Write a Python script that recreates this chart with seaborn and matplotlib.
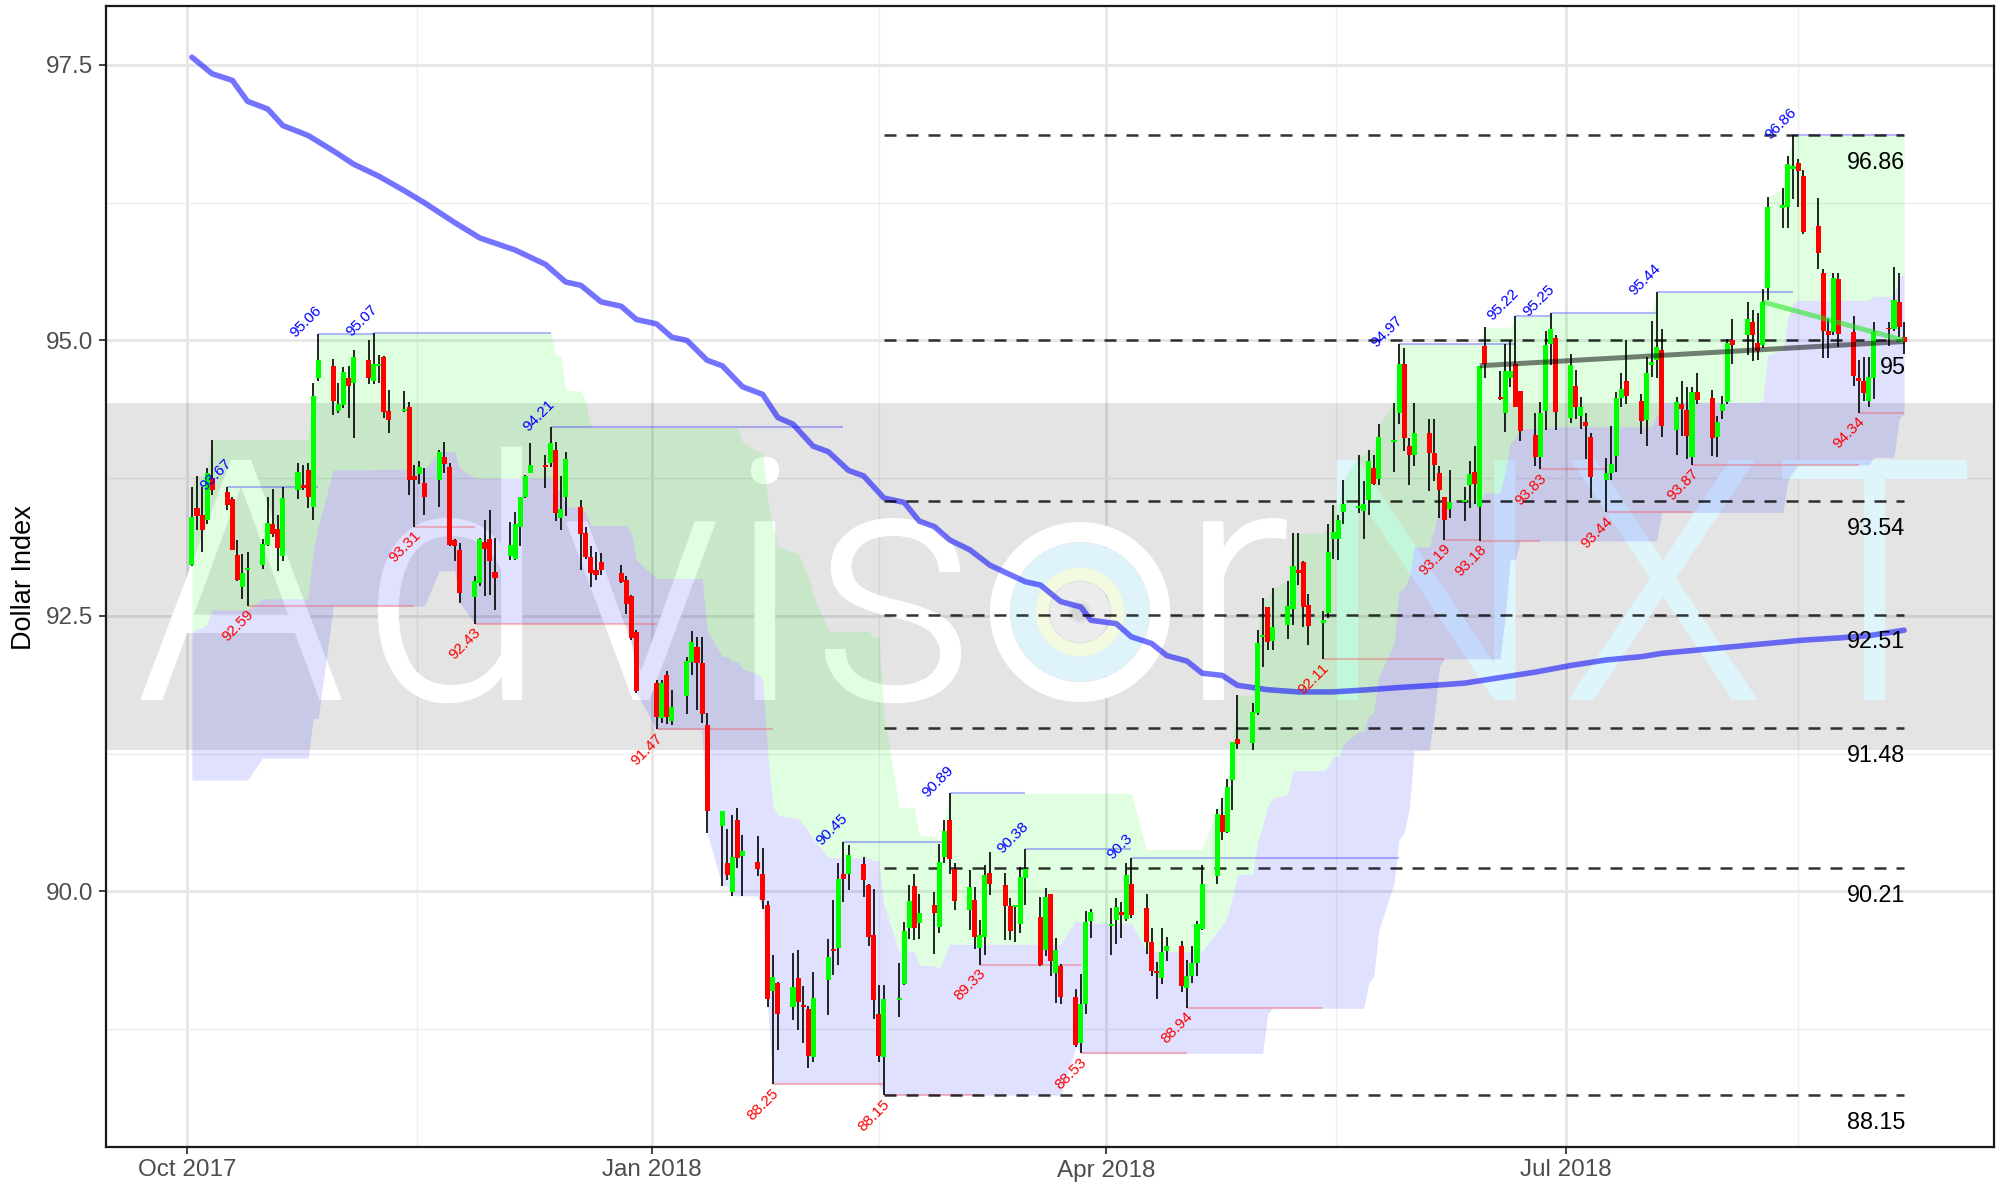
import numpy as np
import pandas as pd
import matplotlib
matplotlib.use("Agg")
import matplotlib.pyplot as plt
import matplotlib.dates as mdates
import matplotlib.transforms as mtransforms
from matplotlib.ticker import FixedLocator, FormatStrFormatter
from matplotlib.patches import Ellipse, PathPatch
from matplotlib.textpath import TextPath
from matplotlib.font_manager import FontProperties, fontManager
import seaborn as sns

# ---------------- data ----------------
open_px = [
    92.96, 93.48, 93.42, 93.37, 93.75, 93.62, 93.56, 93.05, 92.76, 92.92, 92.96, 93.14, 93.33, 93.29, 93.04, 93.64, 93.69, 93.82, 93.49, 94.66, 94.77, 94.36,
    94.41, 94.66, 94.61, 94.82, 94.63, 94.77, 94.85, 94.36, 94.36, 94.40, 93.77, 93.79, 93.71, 93.73, 93.94, 93.85, 93.19, 93.10, 92.67, 92.80, 93.17, 93.20,
    92.90, 93.04, 93.02, 93.31, 93.58, 93.80, 93.86, 93.89, 94.01, 93.39, 93.58, 93.49, 93.25, 93.03, 92.92, 92.99, 92.89, 92.83, 92.68, 92.35,
    91.89, 91.57, 91.96, 91.55, 91.77, 92.08, 92.22, 92.07, 91.51, 90.59, 90.26, 89.99, 90.65, 90.32, 90.27, 90.16, 89.88, 89.10, 89.17, 88.95, 89.21, 88.96,
    88.93, 88.50, 89.20, 89.48, 89.49, 90.16, 90.16, 90.25, 90.06, 89.60, 88.89, 88.50, 89.01, 89.16, 89.67, 90.05, 89.71, 89.88, 89.68, 90.31,
    90.65, 90.20, 89.83, 89.92, 89.49, 89.59, 90.17, 90.06, 89.87, 89.86, 89.70, 90.12, 89.77, 89.47, 89.98, 89.26, 89.32, 89.04, 88.62, 88.98, 89.73,
    89.69, 89.74, 89.81, 89.75, 90.07, 89.85, 89.54, 89.27, 89.21, 89.46, 89.50, 89.12, 89.23, 89.35, 89.66, 90.14, 90.69, 90.54, 91.01, 91.38, 91.35,
    91.62, 92.31, 92.58, 92.27, 92.42, 92.56, 92.92, 92.99, 92.60, 92.44, 92.53, 93.20, 93.20, 93.44, 93.48, 93.45, 93.55, 93.84, 93.74, 94.08, 94.34, 94.79, 94.04,
    93.96, 94.16, 93.98, 93.80, 93.58, 93.47, 93.53, 93.69, 93.81, 93.49, 94.95, 94.48, 94.34, 94.66, 94.79, 94.54, 94.14, 93.94, 94.36, 94.97, 95.02,
    94.30, 94.59, 94.31, 94.26, 94.12, 93.73, 93.80, 93.95, 94.48, 94.63, 94.45, 94.28, 94.78, 94.82, 94.91, 94.19, 94.42, 94.37, 93.94, 94.53, 94.48, 94.12,
    94.36, 94.44, 95.00, 95.05, 95.17, 94.98, 94.96, 95.48, 96.20, 96.21, 96.56, 96.61, 96.49, 96.04, 95.61, 95.09, 95.08, 95.56, 95.08, 94.66, 94.63, 94.45, 94.66,
    95.11, 95.10, 95.35, 95.03,
]
high_px = [
    93.67, 93.77, 93.67, 93.84, 94.10, 93.67, 93.58, 93.19, 93.06, 93.08, 93.20, 93.58, 93.65, 93.42, 93.67, 93.89, 93.87, 93.89, 94.61, 95.06, 94.83, 94.61,
    94.76, 94.77, 94.91, 95.00, 95.07, 94.87, 94.86, 94.55, 94.54, 94.44, 93.87, 93.91, 93.84, 94.01, 94.08, 93.89, 93.20, 93.16, 92.86, 93.21, 93.37, 93.46,
    93.21, 93.35, 93.44, 93.58, 93.78, 94.07, 93.96, 94.21, 94.08, 93.77, 93.99, 93.55, 93.31, 93.13, 93.08, 93.07, 92.96, 92.86, 92.69, 92.37,
    91.92, 91.92, 92.00, 91.83, 92.13, 92.36, 92.31, 92.31, 91.62, 90.73, 90.57, 90.69, 90.76, 90.51, 90.50, 90.39, 89.91, 89.42, 89.18, 89.44, 89.47, 89.14,
    88.96, 89.27, 89.57, 89.92, 90.26, 90.45, 90.42, 90.31, 90.07, 90.02, 89.15, 89.15, 89.35, 89.72, 90.06, 90.16, 89.98, 89.99, 90.43, 90.65,
    90.89, 90.26, 90.19, 90.04, 89.74, 90.24, 90.36, 90.17, 89.94, 89.88, 90.22, 90.38, 89.95, 90.03, 89.98, 89.58, 89.34, 89.11, 89.25, 89.82, 89.84,
    89.85, 89.94, 89.90, 90.26, 90.30, 89.98, 89.67, 89.36, 89.67, 89.59, 89.55, 89.38, 89.50, 89.73, 90.24, 90.75, 90.85, 91.02, 91.36, 91.78, 91.71,
    92.37, 92.66, 92.58, 92.75, 92.82, 93.25, 93.25, 93.00, 92.70, 92.54, 93.33, 93.51, 93.42, 93.73, 93.96, 93.72, 94.01, 93.96, 94.24, 94.43, 94.97, 94.93, 94.11,
    94.43, 94.29, 94.29, 93.86, 93.58, 93.82, 93.67, 93.91, 94.04, 94.77, 95.12, 94.72, 94.97, 95.00, 95.22, 94.54, 94.34, 94.44, 95.09, 95.25, 95.05,
    94.88, 94.73, 94.49, 94.34, 94.16, 93.93, 94.22, 94.53, 94.70, 95.00, 94.51, 94.85, 95.18, 95.44, 95.10, 94.49, 94.63, 94.58, 94.58, 94.70, 94.55, 94.31,
    94.50, 95.01, 95.19, 95.35, 95.28, 95.25, 95.47, 96.30, 96.38, 96.67, 96.86, 96.65, 96.55, 96.29, 95.65, 95.19, 95.61, 95.61, 95.22, 94.82, 94.85, 94.85, 95.17,
    95.17, 95.67, 95.61, 95.17,
]
low_px = [
    92.95, 93.28, 93.08, 93.33, 93.60, 93.46, 93.10, 92.82, 92.65, 92.59, 92.93, 93.13, 93.22, 92.91, 93.00, 93.56, 93.64, 93.48, 93.37, 94.63, 94.32, 94.34,
    94.39, 94.30, 94.11, 94.60, 94.60, 94.61, 94.30, 94.16, 94.35, 93.60, 93.31, 93.70, 93.42, 93.49, 93.80, 93.13, 93.00, 92.62, 92.43, 92.77, 92.68, 92.69,
    92.55, 93.01, 93.01, 93.13, 93.57, 93.80, 93.66, 93.85, 93.36, 93.28, 93.41, 92.92, 93.02, 92.76, 92.83, 92.87, 92.80, 92.52, 92.28, 91.80,
    91.47, 91.53, 91.52, 91.51, 91.61, 91.96, 91.65, 91.53, 90.53, 90.05, 90.10, 89.96, 90.21, 89.96, 90.14, 89.84, 88.95, 88.25, 88.56, 88.83, 88.74, 88.62,
    88.40, 88.45, 88.88, 89.24, 89.33, 89.90, 90.01, 89.95, 89.50, 88.84, 88.45, 88.15, 88.86, 89.15, 89.57, 89.56, 89.57, 89.43, 89.62, 90.26,
    90.16, 89.83, 89.65, 89.48, 89.33, 89.42, 89.97, 89.56, 89.56, 89.54, 89.62, 89.88, 89.32, 89.41, 89.23, 88.99, 88.98, 88.59, 88.53, 88.89, 89.58,
    89.42, 89.52, 89.58, 89.73, 89.76, 89.43, 89.23, 89.02, 89.16, 89.37, 89.09, 88.94, 89.17, 89.23, 89.65, 90.07, 90.47, 90.53, 90.74, 91.29, 91.28,
    91.60, 92.04, 92.19, 92.19, 92.29, 92.42, 92.78, 92.40, 92.24, 92.11, 92.48, 93.02, 93.01, 93.33, 93.43, 93.20, 93.42, 93.69, 93.69, 93.81, 94.24, 94.00, 93.69,
    93.86, 93.63, 93.72, 93.39, 93.19, 93.39, 93.36, 93.48, 93.52, 93.18, 94.66, 94.46, 94.17, 94.58, 94.40, 94.09, 93.86, 93.83, 94.19, 94.78, 94.19,
    94.25, 94.29, 94.20, 93.92, 93.57, 93.44, 93.73, 93.81, 94.40, 94.42, 94.15, 94.04, 94.67, 94.66, 94.12, 93.96, 94.13, 93.92, 93.87, 94.42, 93.95, 93.94,
    94.29, 94.42, 94.79, 94.87, 94.81, 94.82, 94.93, 95.37, 96.02, 96.02, 96.28, 96.21, 95.97, 95.65, 94.84, 94.84, 95.05, 94.94, 94.59, 94.34, 94.45, 94.40, 94.47,
    94.95, 95.09, 95.03, 94.88,
]
close_px = [
    93.40, 93.41, 93.28, 93.80, 93.64, 93.51, 93.10, 92.83, 92.89, 92.93, 93.15, 93.34, 93.24, 93.12, 93.57, 93.81, 93.66, 93.58, 94.50, 94.82, 94.45, 94.42,
    94.71, 94.59, 94.85, 94.66, 94.79, 94.78, 94.35, 94.28, 94.38, 93.73, 93.73, 93.85, 93.58, 93.99, 93.88, 93.14, 93.13, 92.71, 92.82, 93.20, 93.11, 93.00,
    92.84, 93.14, 93.33, 93.58, 93.77, 93.87, 93.85, 94.07, 93.43, 93.47, 93.92, 93.24, 93.03, 92.89, 92.87, 92.92, 92.81, 92.61, 92.30, 91.82,
    91.58, 91.89, 91.58, 91.67, 92.09, 92.26, 92.07, 91.61, 90.73, 90.73, 90.15, 90.31, 90.30, 90.37, 90.20, 89.92, 89.02, 89.22, 88.89, 89.13, 89.00, 88.95,
    88.51, 89.03, 89.40, 89.46, 90.11, 90.11, 90.33, 90.10, 89.59, 89.01, 88.51, 89.02, 89.03, 89.64, 89.91, 89.67, 89.80, 89.80, 90.27, 90.55,
    90.29, 89.91, 90.04, 89.59, 89.60, 90.15, 90.07, 89.87, 89.64, 89.87, 90.13, 90.20, 89.33, 89.95, 89.37, 89.47, 89.04, 88.61, 88.98, 89.72, 89.81,
    89.70, 89.86, 89.79, 90.15, 89.79, 89.54, 89.28, 89.26, 89.45, 89.50, 89.14, 89.23, 89.35, 89.70, 90.07, 90.70, 90.54, 90.95, 91.36, 91.34, 91.63,
    92.25, 92.32, 92.26, 92.40, 92.59, 92.95, 92.89, 92.58, 92.41, 92.46, 93.08, 93.26, 93.37, 93.52, 93.50, 93.52, 93.91, 93.70, 94.12, 94.10, 94.79, 94.11, 93.96,
    94.16, 93.98, 93.87, 93.64, 93.37, 93.53, 93.55, 93.79, 93.70, 94.77, 94.79, 94.47, 94.72, 94.72, 94.40, 94.18, 93.94, 94.34, 94.96, 95.10, 94.35,
    94.78, 94.40, 94.40, 94.22, 93.76, 93.80, 93.88, 94.48, 94.56, 94.50, 94.27, 94.70, 94.80, 94.94, 94.22, 94.44, 94.38, 94.13, 94.53, 94.46, 94.11, 94.26,
    94.42, 94.98, 94.96, 95.19, 95.05, 94.90, 95.35, 96.21, 96.23, 96.60, 96.58, 96.54, 95.98, 95.79, 95.09, 95.05, 95.57, 95.06, 94.68, 94.63, 94.52, 94.67, 95.08,
    95.10, 95.37, 95.12, 94.99,
]
first_day = "2017-10-02"
last_day = "2018-09-06"
market_holidays = ["2017-12-25", "2018-01-01", "2018-03-30"]

# channel floor visible during the first weeks (set by lows before the chart starts)
early_channel_floor = [91.01, 91.01, 91.01, 91.01, 91.01, 91.01, 91.01, 91.01, 91.01, 91.01,
                       91.21, 91.21, 91.21, 91.21, 91.21, 91.21, 91.21, 91.21, 91.57, 91.57]
channel_window = 26

swing_high_dates = ["2017-10-09", "2017-10-27", "2017-11-07", "2017-12-12", "2018-02-08", "2018-03-01",
                    "2018-03-16", "2018-04-06", "2018-05-29", "2018-06-21", "2018-06-28", "2018-07-19", "2018-08-15"]
swing_high_values = [93.67, 95.06, 95.07, 94.21, 90.45, 90.89, 90.38, 90.3, 94.97, 95.22, 95.25, 95.44, 96.86]
swing_low_dates = ["2017-10-13", "2017-11-15", "2017-11-27", "2018-01-02", "2018-01-25", "2018-02-16", "2018-03-07",
                   "2018-03-27", "2018-04-17", "2018-05-14", "2018-06-07", "2018-06-14", "2018-06-26", "2018-07-09",
                   "2018-07-26", "2018-08-28"]
swing_low_values = [92.59, 93.31, 92.43, 91.47, 88.25, 88.15, 89.33, 88.53, 88.94, 92.11, 93.19, 93.18, 93.83, 93.44, 93.87, 94.34]

fib_levels = [96.86, 95, 93.54, 92.51, 91.48, 90.21, 88.15]
fib_start = "2018-02-16"

zone_low, zone_high = 91.28, 94.43

ma_dates = ["2017-10-02", "2017-10-06", "2017-10-10", "2017-10-13", "2017-10-17", "2017-10-20", "2017-10-25", "2017-10-30",
            "2017-11-03", "2017-11-08", "2017-11-13", "2017-11-17", "2017-11-23", "2017-11-28", "2017-12-05", "2017-12-11",
            "2017-12-15", "2017-12-18", "2017-12-22", "2017-12-26", "2017-12-29", "2018-01-02", "2018-01-05", "2018-01-08",
            "2018-01-12", "2018-01-15", "2018-01-19", "2018-01-23", "2018-01-26", "2018-01-29", "2018-02-02", "2018-02-05",
            "2018-02-09", "2018-02-12", "2018-02-16", "2018-02-20", "2018-02-23", "2018-02-26", "2018-03-01", "2018-03-05",
            "2018-03-09", "2018-03-16", "2018-03-19", "2018-03-23", "2018-03-27", "2018-03-29", "2018-04-03", "2018-04-06",
            "2018-04-10", "2018-04-13", "2018-04-17", "2018-04-20", "2018-04-24", "2018-04-27", "2018-05-03", "2018-05-09",
            "2018-05-16", "2018-05-23", "2018-05-29", "2018-06-05", "2018-06-11", "2018-06-18", "2018-06-25", "2018-07-02",
            "2018-07-09", "2018-07-16", "2018-07-20", "2018-07-27", "2018-08-03", "2018-08-10", "2018-08-17", "2018-08-24",
            "2018-08-30", "2018-09-06"]
ma_values = [97.57, 97.42, 97.36, 97.17, 97.10, 96.95, 96.86, 96.72,
             96.60, 96.49, 96.36, 96.25, 96.07, 95.93, 95.82, 95.69,
             95.53, 95.50, 95.35, 95.31, 95.19, 95.15, 95.03, 95.00,
             94.82, 94.77, 94.58, 94.51, 94.30, 94.24, 94.04, 93.99,
             93.82, 93.77, 93.57, 93.53, 93.36, 93.31, 93.19, 93.10,
             92.96, 92.81, 92.78, 92.63, 92.58, 92.46, 92.43, 92.31,
             92.25, 92.14, 92.09, 91.98, 91.96, 91.87, 91.83, 91.81,
             91.81, 91.83, 91.85, 91.87, 91.89, 91.94, 91.99, 92.05,
             92.10, 92.13, 92.16, 92.19, 92.22, 92.25, 92.28, 92.30,
             92.32, 92.37]

trend_grey_dates = ["2018-06-14", "2018-09-06"]
trend_grey_values = [94.77, 94.99]
trend_green_dates = ["2018-08-09", "2018-09-06"]
trend_green_values = [95.35, 95.0]

watermark_letters = ["A", "d", "v", "i", "s", "r", "N", "X", "T"]
watermark_is_brand = [False, False, False, False, False, False, True, True, True]

# ---------------- styling ----------------
sns.set_theme(style="white")
plt.rcParams["font.family"] = ["Liberation Sans", "DejaVu Sans"]

dates = pd.bdate_range(first_day, last_day)
dates = dates[~dates.isin(pd.to_datetime(market_holidays))]
n = min(len(dates), len(close_px), len(open_px), len(high_px), len(low_px))
df = pd.DataFrame({"date": dates[:n], "open": open_px[:n], "high": high_px[:n],
                   "low": low_px[:n], "close": close_px[:n]})
x = mdates.date2num(df["date"].dt.to_pydatetime())

upper = df["high"].rolling(channel_window, min_periods=1).max().to_numpy()
lower = df["low"].rolling(channel_window, min_periods=1).min().to_numpy()
k = min(len(early_channel_floor), n)
lower[:k] = np.minimum(lower[:k], np.array(early_channel_floor[:k]))
mid = (upper + lower) / 2.0


def dn(s):
    return mdates.date2num(pd.Timestamp(s).to_pydatetime())


W, H = 2007, 1186
PX_PER_PT = 100 / 72.0
fig = plt.figure(figsize=(W / 100, H / 100), dpi=100)
ax_l, ax_r, ax_t, ax_b = 106, 1994, 6, 1147
ax = fig.add_axes([ax_l / W, 1 - ax_b / H, (ax_r - ax_l) / W, (ax_b - ax_t) / H])
ax.set_facecolor("white")

x0 = dn("2017-10-01")
ax.set_xlim(x0 - 16.02, x0 + 357.8)
ax.set_ylim(87.68, 98.035)

# grid
ax.xaxis.set_major_locator(FixedLocator([dn(d) for d in ["2017-10-01", "2018-01-01", "2018-04-01", "2018-07-01"]]))
ax.xaxis.set_minor_locator(FixedLocator([dn("2017-11-15") + 0.5, dn("2018-02-15"), dn("2018-05-16") + 0.5, dn("2018-08-16")]))
ax.xaxis.set_major_formatter(mdates.DateFormatter("%b %Y"))
ax.yaxis.set_major_locator(FixedLocator([90.0, 92.5, 95.0, 97.5]))
ax.yaxis.set_minor_locator(FixedLocator([88.75, 91.25, 93.75, 96.25]))
ax.yaxis.set_major_formatter(FormatStrFormatter("%.1f"))
ax.grid(which="major", color="#e6e6e6", lw=2.0, zorder=0)
ax.grid(which="minor", color="#eeeeee", lw=1.0, zorder=0)
ax.set_axisbelow(True)

# grey zone
ax.axhspan(zone_low, zone_high, color="black", alpha=0.105, lw=0, zorder=0.6)


# ---------------- watermark (glyph outlines placed in pixel space) ----------------
def pick_light_font():
    wmap = {"thin": 100, "extra light": 200, "ultralight": 200, "light": 300, "normal": 400,
            "regular": 400, "book": 400, "medium": 500}
    best = None
    for fam in ["Roboto", "Lato", "Open Sans", "Noto Sans", "Inter", "DejaVu Sans"]:
        for f in fontManager.ttflist:
            if f.name != fam or f.style != "normal":
                continue
            w = f.weight if isinstance(f.weight, (int, float)) else wmap.get(str(f.weight).lower(), 400)
            score = abs(w - 300)
            if best is None or score < best[0]:
                best = (score, f.fname, w)
        if best is not None and best[0] == 0:
            break
    return best


picked = pick_light_font()
wm_prop = FontProperties(fname=picked[1]) if picked else FontProperties(family="DejaVu Sans")
wm_weight = picked[2] if picked else 400
stem_em = {100: 0.022, 200: 0.04, 300: 0.062, 400: 0.09, 500: 0.11}.get(int(round(wm_weight / 100.0) * 100), 0.07)

cap_h = TextPath((0, 0), "T", size=1, prop=wm_prop).get_extents().y1
target_cap, target_stem = 240.0, 22.0
scale = target_cap / cap_h
extra = max(0.0, target_stem - stem_em * scale)
scale = (target_cap - extra) / cap_h
extra = max(0.0, target_stem - stem_em * scale)
baseline_disp = H - 700

letter_centers_px = [241, 450, 641, 765, 893, 1245, 1426, 1663, 1874]
for ch, cxp, brand in zip(watermark_letters, letter_centers_px, watermark_is_brand):
    p = TextPath((0, 0), ch, size=1, prop=wm_prop)
    e = p.get_extents()
    tr = mtransforms.Affine2D().translate(-(e.x0 + e.x1) / 2.0, 0).scale(scale).translate(cxp, baseline_disp + extra / 2.0)
    col = "#def6fb" if brand else "white"
    patch = PathPatch(p, transform=tr, facecolor=col, edgecolor=col if extra > 0 else "none",
                      lw=extra / PX_PER_PT, joinstyle="miter", zorder=0.8)
    ax.add_artist(patch)

# logo in place of the "o"
logo_x, logo_y = 1080, 612
for r, w_px, col in [(80, 20, "white"), (57, 25, "#dff4fa"), (38, 13, "#f2fadf"), (21, 18, "#ececec")]:
    ring = Ellipse((logo_x, H - logo_y), 2 * r, 2 * r, transform=mtransforms.IdentityTransform(), fill=False,
                   lw=w_px / PX_PER_PT, ec=col, zorder=0.85)
    ax.add_artist(ring)
dot = Ellipse((logo_x, H - logo_y), 18, 18, transform=mtransforms.IdentityTransform(), fc="#d6d6d6", ec="none", zorder=0.86)
ax.add_artist(dot)

# channel fills
ax.fill_between(x, mid, upper, color=(0.0, 1.0, 0.0), alpha=0.12, lw=0, zorder=1)
ax.fill_between(x, lower, mid, color=(0.0, 0.0, 1.0), alpha=0.12, lw=0, zorder=1)

# 200-day average
sns.lineplot(x=[dn(d) for d in ma_dates], y=ma_values, ax=ax, color=(0.0, 0.0, 1.0), alpha=0.55, lw=4.0,
             legend=False, zorder=3)

# swing high / low lines and labels
last_x = x[-1]
hx = [dn(d) for d in swing_high_dates]
for i, (d, v) in enumerate(zip(hx, swing_high_values)):
    end = hx[i + 1] if i + 1 < len(hx) else last_x
    ax.hlines(v, d, end, colors=(0.2, 0.2, 1.0), alpha=0.35, lw=1.5, zorder=2)
    ax.annotate(f"{v:g}", xy=(d, v), xytext=(-8.6, 8.6), textcoords="offset points", rotation=45,
                ha="center", va="center", color="blue", fontsize=11, zorder=8)
lx = [dn(d) for d in swing_low_dates]
for i, (d, v) in enumerate(zip(lx, swing_low_values)):
    end = lx[i + 1] if i + 1 < len(lx) else last_x
    ax.hlines(v, d, end, colors=(1.0, 0.2, 0.2), alpha=0.3, lw=1.5, zorder=2)
    ax.annotate(f"{v:g}", xy=(d, v), xytext=(-6.8, -14.4), textcoords="offset points", rotation=45,
                ha="center", va="center", color="red", fontsize=11, zorder=8)

# fibonacci levels
fs = dn(fib_start)
for lv in fib_levels:
    ax.hlines(lv, fs, last_x, colors="black", linestyles=(0, (4.8, 4.0)), lw=1.8, alpha=0.8, zorder=4)
    ax.annotate(f"{lv:g}", xy=(last_x, lv), xytext=(1, -19.4), textcoords="offset points",
                ha="right", va="center", color="black", fontsize=16.8, zorder=8)

# trend lines
ax.plot([dn(d) for d in trend_grey_dates], trend_grey_values, color="black", alpha=0.5, lw=3.6,
        solid_capstyle="butt", zorder=7)
ax.plot([dn(d) for d in trend_green_dates], trend_green_values, color=(0.1, 0.9, 0.1), alpha=0.55, lw=3.6,
        solid_capstyle="butt", zorder=7)

# candles
o = df["open"].to_numpy(); c = df["close"].to_numpy()
up = c > o
colors = np.where(up, "#00ff00", "#ff0000")
ax.vlines(x, df["low"], df["high"], colors="black", lw=1.2, zorder=5)
ax.bar(x, np.maximum(np.abs(c - o), 0.015), bottom=np.minimum(o, c), width=1.0, color=colors, lw=0, zorder=6)

# axes styling
for s in ax.spines.values():
    s.set_color("#1a1a1a")
    s.set_linewidth(1.6)
ax.tick_params(axis="both", which="major", length=5, width=1.3, color="#333333", labelsize=17.5,
               labelcolor="#4d4d4d", pad=4, bottom=True, left=True)
ax.tick_params(which="minor", length=0)
ax.set_xlabel("")
ax.set_ylabel("")
fig.text(24 / W, 1 - 578 / H, "Dollar Index", rotation=90, ha="center", va="center", fontsize=19.5, color="black")

fig.savefig("out.png", dpi=100)
